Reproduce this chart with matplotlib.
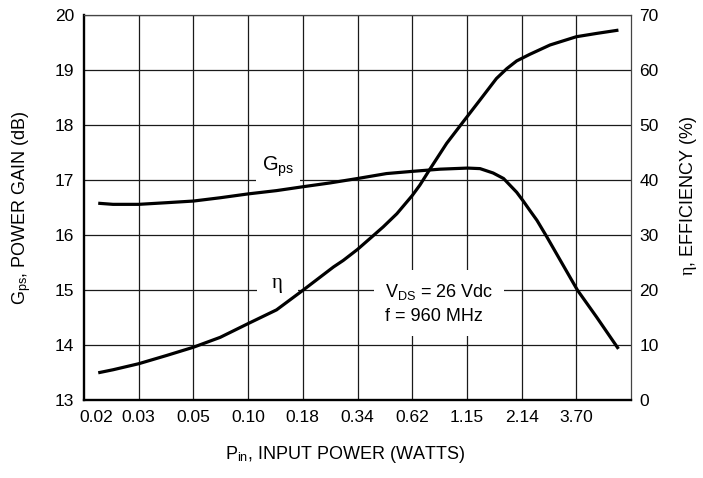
"""Power gain and drain efficiency versus input power (RF LDMOS datasheet plot)."""
import matplotlib
matplotlib.use("Agg")
import matplotlib.pyplot as plt

plt.rcParams["font.family"] = ["Liberation Sans", "DejaVu Sans"]
plt.rcParams["mathtext.fontset"] = "custom"
plt.rcParams["mathtext.rm"] = "Liberation Sans"
plt.rcParams["mathtext.it"] = "Liberation Serif"
plt.rcParams["mathtext.bf"] = "Liberation Sans:bold"

# ---------------------------------------------------------------------------
# Data (x is in grid-column units: the power axis has equally spaced columns)
# ---------------------------------------------------------------------------
tick_pos = [0.23, 1, 2, 3, 4, 5, 6, 7, 8, 9]
tick_labels = ["0.02", "0.03", "0.05", "0.10", "0.18",
               "0.34", "0.62", "1.15", "2.14", "3.70"]
grid_cols = [1, 2, 3, 4, 5, 6, 7, 8, 9]

gps_x = [0.26, 0.53, 1.0, 1.51, 2.0, 2.49, 3.0, 3.52, 4.0, 4.50, 5.0, 5.53,
         6.0, 6.51, 7.01, 7.24, 7.48, 7.67, 7.91, 8.03, 8.15, 8.28, 8.46,
         8.76, 9.02, 9.37, 9.77]
gps_db = [16.58, 16.56, 16.56, 16.59, 16.62, 16.68, 16.75, 16.81, 16.88, 16.95, 17.03, 17.12,
          17.16, 17.20, 17.22, 17.21, 17.13, 17.03, 16.78, 16.62, 16.45, 16.27, 15.97,
          15.45, 15.0, 14.51, 13.93]

eff_x = [0.26, 0.53, 1.0, 1.51, 2.0, 2.49, 3.0, 3.52, 4.0, 4.56, 4.74, 5.0,
         5.23, 5.47, 5.72, 6.0, 6.14, 6.33, 6.63, 6.93, 7.24, 7.54, 7.73,
         7.91, 8.15, 8.52, 9.0, 9.37, 9.77]
eff_pct = [4.95, 5.5, 6.6, 8.1, 9.6, 11.4, 13.9, 16.4, 19.95, 24.2, 25.4, 27.4,
           29.4, 31.5, 33.9, 37.2, 39.1, 42.1, 46.7, 50.6, 54.6, 58.5, 60.3,
           61.7, 62.9, 64.6, 66.1, 66.7, 67.3]

gain_ticks = [13, 14, 15, 16, 17, 18, 19, 20]
eff_ticks = [0, 10, 20, 30, 40, 50, 60, 70]

# ---------------------------------------------------------------------------
# Figure
# ---------------------------------------------------------------------------
fig = plt.figure(figsize=(7.03, 4.78), dpi=100)
ax = fig.add_axes([0.1195, 0.1632, 0.7781, 0.8048])
ax2 = ax.twinx()

ax.set_xlim(0, 10)
ax.set_ylim(13, 20)
ax2.set_ylim(0, 70)

ax.set_xticks(tick_pos)
ax.set_xticklabels(tick_labels)
ax.set_yticks(gain_ticks)
ax2.set_yticks(eff_ticks)

# grid: horizontal lines on the gain ticks, vertical lines on column edges
ax.set_axisbelow(True)
ax.grid(True, axis="y", color="#1a1a1a", linewidth=0.9)
for c in grid_cols:
    ax.axvline(c, color="#1a1a1a", linewidth=0.9, zorder=0.5)

ax.tick_params(axis="x", length=0, pad=7, labelsize=12.5)
ax.tick_params(axis="y", length=0, pad=7, labelsize=12.5)
ax2.tick_params(axis="y", length=0, pad=6, labelsize=12.5)

# spines: heavy left/bottom, thin top/right
for side in ("left", "bottom"):
    ax.spines[side].set_linewidth(1.7)
    ax.spines[side].set_color("black")
for side in ("top", "right"):
    ax.spines[side].set_linewidth(0.9)
    ax.spines[side].set_color("#444444")
for sp in ax2.spines.values():
    sp.set_visible(False)

# curves
ax.plot(gps_x, gps_db, color="black", linewidth=2.3,
        solid_joinstyle="round", solid_capstyle="butt", zorder=4)
ax2.plot(eff_x, eff_pct, color="black", linewidth=2.3,
         solid_joinstyle="round", solid_capstyle="butt", zorder=4)

# curve labels and conditions (white boxes break the grid as in the original)
ax.text(3.55, 17.16, r"G$_{\mathrm{ps}}$", ha="center", va="baseline",
        fontsize=14.5, zorder=3,
        bbox=dict(boxstyle="square,pad=0.3", facecolor="white", edgecolor="none"))
ax.text(3.53, 15.09, r"$\eta$", ha="center", va="center",
        fontsize=15, zorder=3,
        bbox=dict(boxstyle="square,pad=0.7", facecolor="white", edgecolor="none"))
ax.text(5.50, 14.76, "$\\mathrm{V_{DS}}$ = 26 Vdc\nf = 960 MHz",
        ha="left", va="center", fontsize=13, linespacing=1.5, zorder=3,
        bbox=dict(boxstyle="square,pad=0.6", facecolor="white", edgecolor="none"))

# axis labels
ax.set_xlabel(r"P$_{\mathrm{in}}$, INPUT POWER (WATTS)", fontsize=13)
ax.xaxis.set_label_coords(0.478, -0.115)
ax.set_ylabel(r"G$_{\mathrm{ps}}$, POWER GAIN (dB)", fontsize=13)
ax.yaxis.set_label_coords(-0.093, 0.50)
ax2.set_ylabel(r"$\eta$, EFFICIENCY (%)", fontsize=13)
ax2.yaxis.set_label_coords(1.086, 0.53)

fig.savefig("out.png", dpi=100)
plt.close(fig)
